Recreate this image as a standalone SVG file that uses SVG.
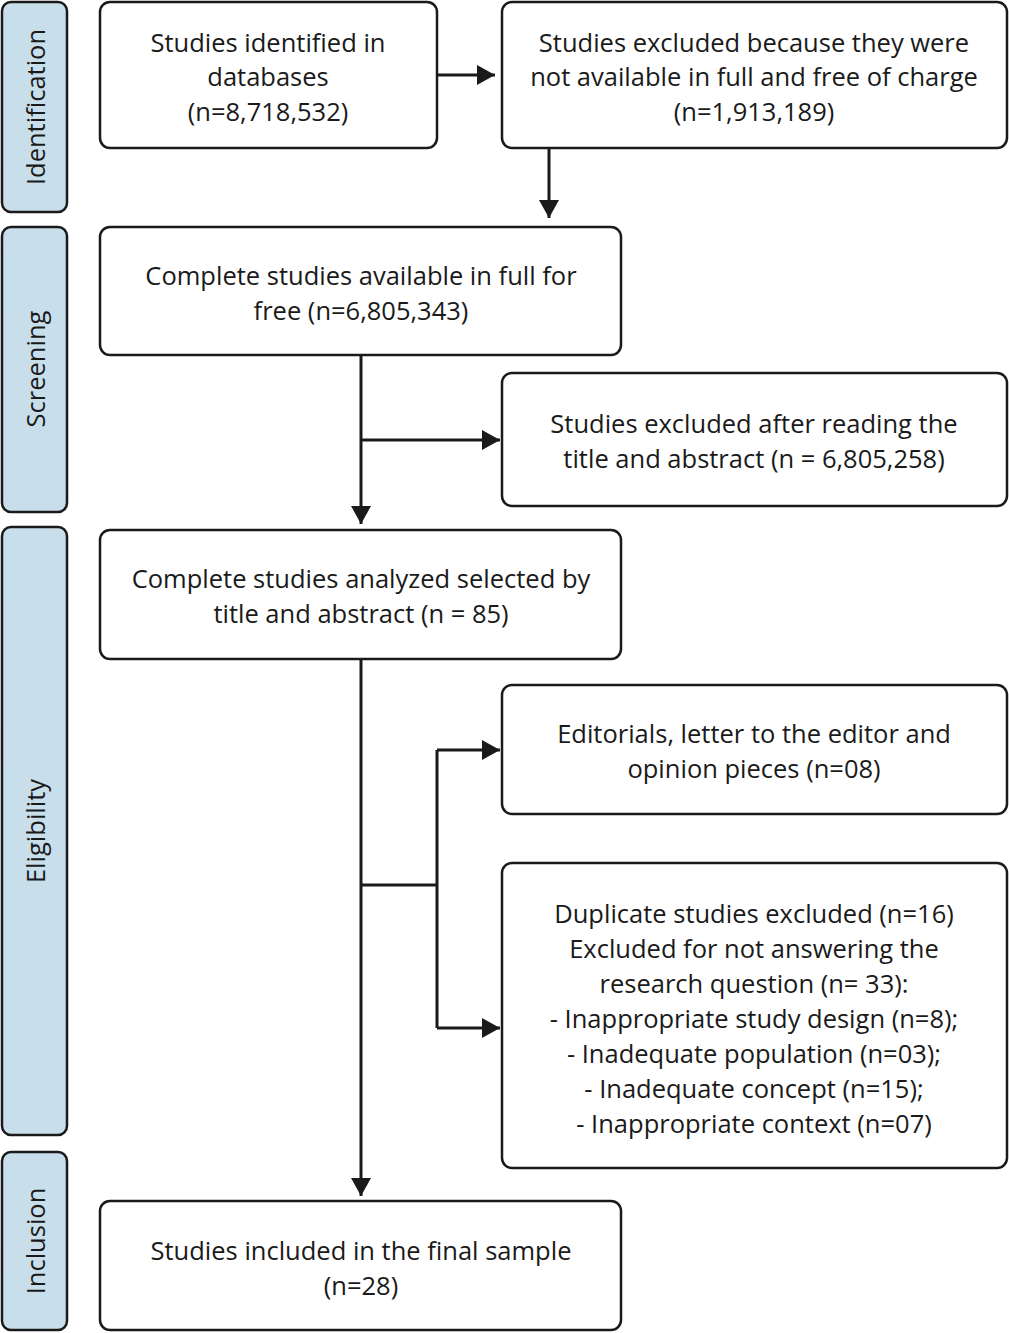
<svg xmlns="http://www.w3.org/2000/svg" width="1009" height="1333" viewBox="0 0 1009 1333">
<style>
.box{fill:#fff;stroke:#1a1a1a;stroke-width:2.5}
.lane{fill:#c8dfeb;stroke:#1a1a1a;stroke-width:2.5}
.t{font-family:"Open Sans",sans-serif;font-size:25.5px;fill:#1a1a1a;text-anchor:middle;dominant-baseline:central}
.c{stroke:#1a1a1a;stroke-width:3;fill:none}
</style>
<defs><marker id="a" viewBox="0 0 10 10" refX="10" refY="5" markerWidth="18" markerHeight="20" markerUnits="userSpaceOnUse" orient="auto" preserveAspectRatio="none"><path d="M0,0L10,5L0,10z" fill="#1a1a1a"/></marker></defs>
<g id="lane-identification"><rect class="lane" x="2" y="2" width="65" height="210" rx="9"/><text class="t" transform="translate(35,107) rotate(-90)">Identification</text></g>
<g id="lane-screening"><rect class="lane" x="2" y="227" width="65" height="285" rx="9"/><text class="t" transform="translate(35,369) rotate(-90)">Screening</text></g>
<g id="lane-eligibility"><rect class="lane" x="2" y="527" width="65" height="608" rx="9"/><text class="t" transform="translate(35,831) rotate(-90)">Eligibility</text></g>
<g id="lane-inclusion"><rect class="lane" x="2" y="1152" width="65" height="178" rx="9"/><text class="t" transform="translate(35,1241) rotate(-90)">Inclusion</text></g>
<g id="n1"><rect class="box" x="100" y="2" width="337" height="146" rx="10"/><text class="t" x="268" y="42">Studies identified in</text><text class="t" x="268" y="76">databases</text><text class="t" x="268" y="111">(n=8,718,532)</text></g>
<g id="n2"><rect class="box" x="502" y="2" width="505" height="146" rx="10"/><text class="t" x="754" y="42">Studies excluded because they were</text><text class="t" x="754" y="76">not available in full and free of charge</text><text class="t" x="754" y="111">(n=1,913,189)</text></g>
<g id="n3"><rect class="box" x="100" y="227" width="521" height="128" rx="10"/><text class="t" x="361" y="275">Complete studies available in full for</text><text class="t" x="361" y="310">free (n=6,805,343)</text></g>
<g id="n4"><rect class="box" x="502" y="373" width="505" height="133" rx="10"/><text class="t" x="754" y="423">Studies excluded after reading the</text><text class="t" x="754" y="458">title and abstract (n = 6,805,258)</text></g>
<g id="n5"><rect class="box" x="100" y="530" width="521" height="129" rx="10"/><text class="t" x="361" y="578">Complete studies analyzed selected by</text><text class="t" x="361" y="613">title and abstract (n = 85)</text></g>
<g id="n6"><rect class="box" x="502" y="685" width="505" height="129" rx="10"/><text class="t" x="754" y="733">Editorials, letter to the editor and</text><text class="t" x="754" y="768">opinion pieces (n=08)</text></g>
<g id="n7"><rect class="box" x="502" y="863" width="505" height="305" rx="10"/>
<text class="t" x="754" y="913">Duplicate studies excluded (n=16)</text>
<text class="t" x="754" y="948">Excluded for not answering the</text>
<text class="t" x="754" y="983">research question (n= 33):</text>
<text class="t" x="754" y="1018">- Inappropriate study design (n=8);</text>
<text class="t" x="754" y="1053">- Inadequate population (n=03);</text>
<text class="t" x="754" y="1088">- Inadequate concept (n=15);</text>
<text class="t" x="754" y="1123">- Inappropriate context (n=07)</text></g>
<g id="n8"><rect class="box" x="100" y="1201" width="521" height="129" rx="10"/><text class="t" x="361" y="1250">Studies included in the final sample</text><text class="t" x="361" y="1285">(n=28)</text></g>
<g id="connectors">
<path class="c" d="M437,75H495" marker-end="url(#a)"/>
<path class="c" d="M549,148V218" marker-end="url(#a)"/>
<path class="c" d="M361,355V524" marker-end="url(#a)"/>
<path class="c" d="M361,440H500" marker-end="url(#a)"/>
<path class="c" d="M361,659V1196" marker-end="url(#a)"/>
<path class="c" d="M361,885H437"/>
<path class="c" d="M437,750V1028"/>
<path class="c" d="M437,750H500" marker-end="url(#a)"/>
<path class="c" d="M437,1028H500" marker-end="url(#a)"/>
</g>
</svg>
